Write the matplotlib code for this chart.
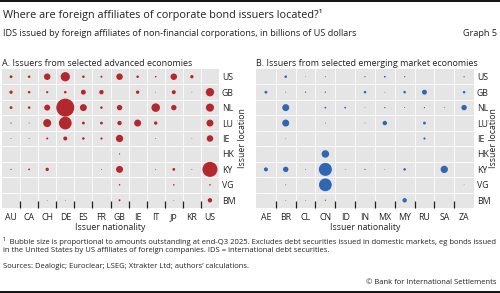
import matplotlib
matplotlib.use("Agg")
import matplotlib.pyplot as plt
import numpy as np

plt.rcParams['font.family'] = ['Open Sans', 'DejaVu Sans']

rows = ["US", "GB", "NL", "LU", "IE", "HK", "KY", "VG", "BM"]

adv_cols = ["AU", "CA", "CH", "DE", "ES", "FR", "GB", "IE", "IT", "JP", "KR", "US"]
# amounts in billions of USD (rows = issuer location, cols = issuer nationality)
adv_US = [5, 4, 26, 53, 4, 2.5, 26, 4, 1.5, 26, 7, 0]
adv_GB = [7, 4, 3, 4, 15, 12, 0, 7, 0.4, 10, 0.4, 43]
adv_NL = [5, 4, 22, 200, 30, 4, 18, 0, 45, 18, 0, 40]
adv_LU = [1, 0.6, 40, 100, 5, 5, 12, 30, 7, 0, 0, 30]
adv_IE = [0.5, 0.5, 2.5, 10, 4, 3, 33, 0, 0.5, 0, 0.3, 26]
adv_HK = [0, 0, 0, 0, 0, 0, 1, 0, 0, 0, 0, 0]
adv_KY = [1, 2, 7, 0, 0, 0.5, 30, 0, 0.5, 5, 0.5, 139]
adv_VG = [0, 0, 0, 0, 0, 0, 1.5, 0, 0, 1.5, 0, 1.5]
adv_BM = [0, 0, 0.4, 0.4, 0, 0, 2.5, 0, 0, 0.4, 0, 12]

em_cols = ["AE", "BR", "CL", "CN", "ID", "IN", "MX", "MY", "RU", "SA", "ZA"]
em_US = [0, 4, 0.3, 0.6, 0, 1, 2, 1, 0, 0, 1]
em_GB = [5, 0.6, 1, 1, 0, 4, 0.4, 4, 15, 0, 4]
em_NL = [0, 30, 0, 2, 2, 0.4, 1, 0.6, 1, 0.5, 18]
em_LU = [0, 30, 0, 0.5, 0, 0.4, 12, 0, 5, 0, 0]
em_IE = [0, 0.3, 0, 0, 0, 0, 0, 0, 3, 0, 0]
em_HK = [0, 0, 0, 35, 0, 0, 0, 0, 0, 0, 0]
em_KY = [10, 18, 0.5, 105, 0.4, 1, 0.4, 4, 0, 33, 0]
em_VG = [0, 0.6, 0, 100, 0, 0, 0, 0, 0, 0, 0.3]
em_BM = [0, 0.4, 0.4, 1, 0, 0, 0, 12, 0, 0, 0]

adv = [adv_US, adv_GB, adv_NL, adv_LU, adv_IE, adv_HK, adv_KY, adv_VG, adv_BM]
em = [em_US, em_GB, em_NL, em_LU, em_IE, em_HK, em_KY, em_VG, em_BM]

RED = "#b3282c"
BLUE = "#2f67b4"
BG = "#e5e5e5"
TXT = "#222222"
SIZE_SCALE = 0.84

W, H = 500, 293
fig = plt.figure(figsize=(W / 100, H / 100), dpi=100)

def px_axes(x0, y0, x1, y1):
    return fig.add_axes([x0 / W, 1 - y1 / H, (x1 - x0) / W, (y1 - y0) / H])

def panel(ax, cols, data, color, title, x0, x1, ylab_x):
    ax.set_facecolor(BG)
    nr, nc = len(rows), len(cols)
    for i, r in enumerate(rows):
        vals = np.array(data[i], dtype=float)
        xs = np.arange(nc)[vals > 0]
        ax.scatter(xs, np.full(len(xs), i), s=vals[vals > 0] * SIZE_SCALE,
                   color=color, edgecolors="none", zorder=3)
    ax.set_xlim(-0.5, nc - 0.5)
    ax.set_ylim(nr - 0.5, -0.5)
    ax.set_xticks(np.arange(nc))
    ax.set_xticklabels(cols, fontsize=6.3, color=TXT)
    ax.set_yticks(np.arange(nr))
    ax.set_yticklabels(rows, fontsize=6.3, color=TXT)
    ax.yaxis.tick_right()
    ax.tick_params(axis="x", which="major", length=0, pad=3.5)
    ax.tick_params(axis="y", which="major", length=0, pad=2)
    ax.set_xticks(np.arange(nc - 1) + 0.5, minor=True)
    ax.set_yticks(np.arange(nr - 1) + 0.5, minor=True)
    ax.tick_params(axis="x", which="minor", direction="in", length=5, width=0.9,
                   color=TXT, bottom=True)
    ax.tick_params(axis="y", which="minor", length=0, left=False, right=False)
    ax.grid(which="minor", color="white", linewidth=0.6)
    ax.set_axisbelow(True)
    for s in ax.spines.values():
        s.set_visible(False)
    ax.set_xlabel("Issuer nationality", fontsize=6.3, labelpad=1, color=TXT)
    ax.set_ylabel("Issuer location", fontsize=6.3, color=TXT, rotation=90)
    ax.yaxis.set_label_position("right")
    ax.yaxis.set_label_coords((ylab_x - x0) / (x1 - x0), 0.5)
    ax.yaxis.label.set_va("center")
    ax.set_title(title, fontsize=6.45, loc="left", pad=2.5, color=TXT)

axL = px_axes(2, 69, 219, 208)
panel(axL, adv_cols, adv, RED, "A. Issuers from selected advanced economies", 2, 219, 242)
axR = px_axes(256, 69, 474, 208)
panel(axR, em_cols, em, BLUE, "B. Issuers from selected emerging market economies", 256, 474, 493.5)

# header / footer
fig.add_artist(plt.Line2D([0, 1], [1 - 0.8 / H, 1 - 0.8 / H], color="#111111", lw=1.4))
fig.add_artist(plt.Line2D([0, 1], [1.0 / H, 1.0 / H], color="#111111", lw=1.4))
fig.text(3 / W, 1 - 15 / H, "Where are foreign affiliates of corporate bond issuers located?\u00b9",
         fontsize=7.8, va="center", ha="left", color=TXT)
fig.text(3 / W, 1 - 33 / H,
         "IDS issued by foreign affiliates of non-financial corporations, in billions of US dollars",
         fontsize=6.6, va="center", ha="left", color=TXT)
fig.text(497 / W, 1 - 33 / H, "Graph 5", fontsize=6.6, va="center", ha="right", color=TXT)
fig.text(3 / W, 1 - 241 / H,
         "\u00b9  Bubble size is proportional to amounts outstanding at end-Q3 2025. Excludes debt securities issued in domestic markets, eg bonds issued",
         fontsize=5.5, va="center", ha="left", color=TXT)
fig.text(3 / W, 1 - 251 / H,
         "in the United States by US affiliates of foreign companies. IDS = international debt securities.",
         fontsize=5.5, va="center", ha="left", color=TXT)
fig.text(3 / W, 1 - 266 / H, "Sources: Dealogic; Euroclear; LSEG; Xtrakter Ltd; authors\u2019 calculations.",
         fontsize=5.5, va="center", ha="left", color=TXT)
fig.text(497 / W, 1 - 283 / H, "\u00a9 Bank for International Settlements",
         fontsize=5.5, va="center", ha="right", color=TXT)

fig.savefig("out.png", dpi=100)
